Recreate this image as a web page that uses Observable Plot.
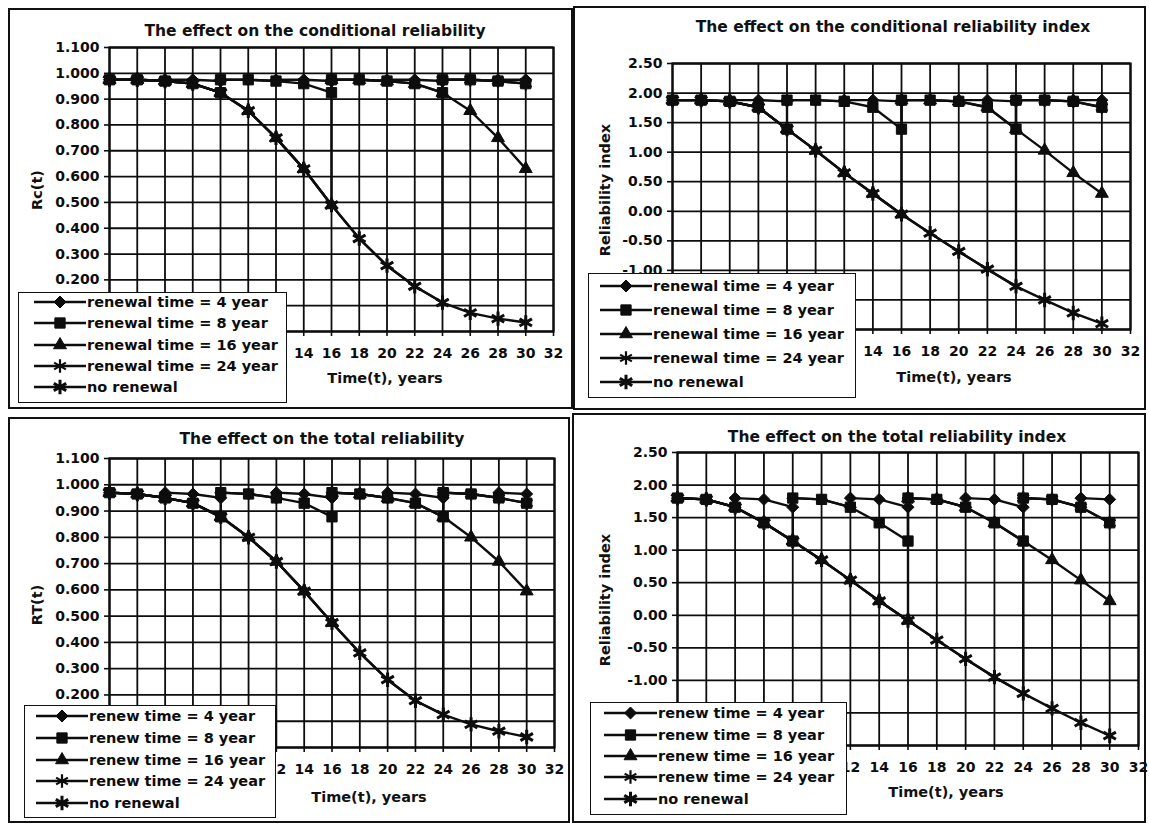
<!DOCTYPE html>
<html><head><meta charset="utf-8">
<script src="https://cdn.jsdelivr.net/npm/d3@7"></script>
<script src="https://cdn.jsdelivr.net/npm/@observablehq/plot@0.6"></script>
<style>
body{margin:0;background:#fff;}
#root{position:relative;width:1149px;height:825px;overflow:hidden;font-family:"DejaVu Sans",sans-serif;font-weight:bold;color:#111;background:#fff;}
.panel{position:absolute;border:2px solid #111;box-sizing:border-box;}
.abs{position:absolute;white-space:nowrap;line-height:1;}
.legend{position:absolute;background:#fff;border:1.6px solid #111;box-sizing:border-box;overflow:hidden;}
svg{overflow:visible;}
</style></head><body><div id="root"></div>
<script>
// ---------------- data ----------------
const years = [0,2,4,6,8,10,12,14,16,18,20,22,24,26,28,30];
const xTicks = [0,2,4,6,8,10,12,14,16,18,20,22,24,26,28,30,32];
const relTicks = [0,0.1,0.2,0.3,0.4,0.5,0.6,0.7,0.8,0.9,1.0,1.1];
const idxTicks = [-2,-1.5,-1,-0.5,0,0.5,1,1.5,2,2.5];
// tick labels left visible beside the legend boxes
const xLabelsTop = [14,16,18,20,22,24,26,28,30,32];
const xLabelsBottom = [12,14,16,18,20,22,24,26,28,30,32];
const relLabels = [0.2,0.3,0.4,0.5,0.6,0.7,0.8,0.9,1.0,1.1];
const idxLabels = [-1,-0.5,0,0.5,1,1.5,2,2.5];

const renew4 = [4,8,12,16,20,24,28];
const renew8 = [8,16,24];
const renew16 = [16];
const renew24 = [24];

const labelsRenewal = ["renewal time = 4 year","renewal time = 8 year","renewal time = 16 year","renewal time = 24 year","no renewal"];
const labelsRenew = ["renew time = 4 year","renew time = 8 year","renew time = 16 year","renew time = 24 year","no renewal"];

// Panel 1: conditional reliability Rc(t)
const rcNone = [0.975,0.975,0.970,0.960,0.925,0.855,0.750,0.630,0.490,0.360,0.255,0.175,0.112,0.072,0.050,0.035];
const rc4    = [0.975,0.975,0.970,0.975,0.970,0.975,0.970,0.975,0.970,0.975,0.970,0.975,0.970,0.975,0.970,0.975];
const rc8    = [0.975,0.975,0.970,0.960,0.925,0.975,0.970,0.960,0.925,0.975,0.970,0.960,0.925,0.975,0.970,0.960];
const rc16   = [0.975,0.975,0.970,0.960,0.925,0.855,0.750,0.630,0.490,0.975,0.970,0.960,0.925,0.855,0.750,0.630];
const rc24   = [0.975,0.975,0.970,0.960,0.925,0.855,0.750,0.630,0.490,0.360,0.255,0.175,0.112,0.975,0.970,0.960];
const rcReset = 0.975;

// Panel 2: conditional reliability index
const bcNone = [1.88,1.88,1.86,1.76,1.39,1.03,0.65,0.30,-0.05,-0.37,-0.68,-0.98,-1.27,-1.50,-1.72,-1.90];
const bc4    = [1.88,1.88,1.86,1.88,1.86,1.88,1.86,1.88,1.86,1.88,1.86,1.88,1.86,1.88,1.86,1.88];
const bc8    = [1.88,1.88,1.86,1.76,1.39,1.88,1.86,1.76,1.39,1.88,1.86,1.76,1.39,1.88,1.86,1.76];
const bc16   = [1.88,1.88,1.86,1.76,1.39,1.03,0.65,0.30,-0.05,1.88,1.86,1.76,1.39,1.03,0.65,0.30];
const bc24   = [1.88,1.88,1.86,1.76,1.39,1.03,0.65,0.30,-0.05,-0.37,-0.68,-0.98,-1.27,1.88,1.86,1.76];
const bcReset = 1.88;

// Panel 3: total reliability RT(t)
const rtNone = [0.970,0.965,0.950,0.930,0.878,0.800,0.708,0.595,0.475,0.360,0.258,0.178,0.125,0.088,0.062,0.040];
const rt4    = [0.970,0.965,0.950,0.965,0.950,0.965,0.950,0.965,0.950,0.965,0.950,0.965,0.950,0.965,0.950,0.965];
const rt8    = [0.970,0.965,0.950,0.930,0.878,0.965,0.950,0.930,0.878,0.965,0.950,0.930,0.878,0.965,0.950,0.930];
const rt16   = [0.970,0.965,0.950,0.930,0.878,0.800,0.708,0.595,0.475,0.965,0.950,0.930,0.878,0.800,0.708,0.595];
const rt24   = [0.970,0.965,0.950,0.930,0.878,0.800,0.708,0.595,0.475,0.360,0.258,0.178,0.125,0.965,0.950,0.930];
const rtReset = 0.970;

// Panel 4: total reliability index
const btNone = [1.80,1.78,1.66,1.42,1.14,0.85,0.54,0.22,-0.08,-0.38,-0.67,-0.95,-1.20,-1.43,-1.65,-1.85];
const bt4    = [1.80,1.78,1.66,1.78,1.66,1.78,1.66,1.78,1.66,1.78,1.66,1.78,1.66,1.78,1.66,1.78];
const bt8    = [1.80,1.78,1.66,1.42,1.14,1.78,1.66,1.42,1.14,1.78,1.66,1.42,1.14,1.78,1.66,1.42];
const bt16   = [1.80,1.78,1.66,1.42,1.14,0.85,0.54,0.22,-0.08,1.78,1.66,1.42,1.14,0.85,0.54,0.22];
const bt24   = [1.80,1.78,1.66,1.42,1.14,0.85,0.54,0.22,-0.08,-0.38,-0.67,-0.95,-1.20,1.78,1.66,1.42];
const btReset = 1.80;

// ---------------- helpers ----------------
const INK = "#0d0d0d";
const FONT = '"DejaVu Sans", sans-serif';
const root = document.getElementById("root");

function withRenewals(values, renewals, reset) {
  const out = [];
  years.forEach((t, i) => {
    out.push({t, v: values[i]});
    if (renewals.includes(t)) out.push({t, v: reset});
  });
  return out;
}

const markerStyles = [
  {symbol: "diamond2", r: 5.4, fill: INK, sw: 1},
  {symbol: "square", r: 5.8, fill: INK, sw: 1},
  {symbol: "triangle", r: 4.8, fill: INK, sw: 1},
  {symbol: "asterisk", r: 6.4, fill: "none", sw: 2.2},
  {symbol: "asterisk", r: 6.8, fill: "none", sw: 3}
];
const d3Sym = {diamond2: d3.symbolDiamond2, square: d3.symbolSquare, triangle: d3.symbolTriangle, asterisk: d3.symbolAsterisk};

function addBox(x0, y0, x1, y1) {
  const d = document.createElement("div");
  d.className = "panel";
  Object.assign(d.style, {left: x0 + "px", top: y0 + "px", width: (x1 - x0) + "px", height: (y1 - y0) + "px"});
  root.appendChild(d);
}
function addText(txt, x, y, size, rotate) {
  const d = document.createElement("div");
  d.className = "abs";
  d.textContent = txt;
  d.style.left = x + "px"; d.style.top = y + "px";
  d.style.fontSize = size + "px";
  d.style.transform = "translate(-50%,-50%)" + (rotate ? ` rotate(${rotate}deg)` : "");
  root.appendChild(d);
}

function drawPanel(p) {
  const seriesData = [
    withRenewals(p.s4, renew4, p.reset),
    withRenewals(p.s8, renew8, p.reset),
    withRenewals(p.s16, renew16, p.reset),
    withRenewals(p.s24, renew24, p.reset),
    years.map((t, i) => ({t, v: p.none[i]}))
  ];
  const marks = [
    Plot.gridX(xTicks, {stroke: INK, strokeOpacity: 1, strokeWidth: 1.8}),
    Plot.gridY(p.ticks, {stroke: INK, strokeOpacity: 1, strokeWidth: 1.8}),
    Plot.frame({stroke: INK, strokeWidth: 2.2}),
    Plot.axisX(p.xLabels, {tickSize: 5, tickPadding: 12, tickFormat: d => String(d), label: null, stroke: INK, strokeWidth: 1.6}),
    Plot.axisY(p.yLabels, {tickSize: 5, tickPadding: 5, tickFormat: p.fmt, label: null, stroke: INK, strokeWidth: 1.6})
  ];
  seriesData.forEach((data, k) => {
    const m = markerStyles[k];
    marks.push(Plot.line(data, {x: "t", y: "v", stroke: INK, strokeWidth: 2.4}));
    marks.push(Plot.dot(data, {x: "t", y: "v", symbol: () => m.symbol, r: m.r, fill: m.fill, stroke: INK, strokeWidth: m.sw}));
  });
  const chart = Plot.plot({
    width: p.w, height: p.h,
    marginLeft: p.mL, marginRight: p.mR, marginTop: p.mT, marginBottom: p.mB,
    x: {domain: [0, 32]},
    y: {domain: p.domain},
    symbol: {type: "identity"},
    style: {fontFamily: FONT, fontWeight: "bold", fontSize: "14px", color: INK, background: "transparent", overflow: "visible"},
    marks
  });
  chart.style.position = "absolute";
  chart.style.left = p.x + "px";
  chart.style.top = p.y + "px";
  root.appendChild(chart);
}

function drawLegend(lg, labels) {
  const w = lg.x1 - lg.x0, h = lg.y1 - lg.y0;
  const div = document.createElement("div");
  div.className = "legend";
  Object.assign(div.style, {left: lg.x0 + "px", top: lg.y0 + "px", width: w + "px", height: h + "px"});
  const svg = d3.create("svg").attr("width", w).attr("height", h)
    .style("position", "absolute").style("left", "-1.6px").style("top", "-1.6px").style("overflow", "hidden");
  labels.forEach((lab, k) => {
    const cy = lg.rows[k] - lg.y0;
    const m = markerStyles[k];
    svg.append("line").attr("x1", lg.sx0 - lg.x0).attr("x2", lg.sx1 - lg.x0)
      .attr("y1", cy).attr("y2", cy).attr("stroke", INK).attr("stroke-width", 2.4);
    svg.append("path").attr("d", d3.symbol(d3Sym[m.symbol], Math.PI * m.r * m.r)())
      .attr("transform", `translate(${(lg.sx0 + lg.sx1) / 2 - lg.x0},${cy})`)
      .attr("fill", m.fill).attr("stroke", INK).attr("stroke-width", m.sw);
    svg.append("text").attr("x", lg.sx1 - lg.x0 + 1).attr("y", cy).attr("dy", "0.36em")
      .attr("font-family", FONT).attr("font-weight", "bold").attr("font-size", 14.5)
      .attr("fill", INK).text(lab);
  });
  div.appendChild(svg.node());
  root.appendChild(div);
}

const f3 = d => d.toFixed(3);
const f2 = d => d.toFixed(2);

const panels = [
  {box: [8, 8, 573, 409], x: 8, y: 8, w: 565, h: 401, mL: 101, mR: 20, mT: 39, mB: 78,
   domain: [0, 1.1], ticks: relTicks, yLabels: relLabels, xLabels: xLabelsTop, fmt: f3,
   none: rcNone, s4: rc4, s8: rc8, s16: rc16, s24: rc24, reset: rcReset,
   title: "The effect on the conditional reliability", tx: 315, ty: 32,
   ytitle: "Rc(t)", yx: 37, yy: 190, xtx: 385, xty: 378,
   legend: {x0: 18, y0: 292, x1: 287, y1: 403, rows: [303, 324, 346, 367, 388], sx0: 35, sx1: 87}, labels: labelsRenewal},
  {box: [573, 6, 1146, 410], x: 573, y: 6, w: 573, h: 404, mL: 99, mR: 16, mT: 57, mB: 81,
   domain: [-2, 2.5], ticks: idxTicks, yLabels: idxLabels, xLabels: xLabelsTop, fmt: f2,
   none: bcNone, s4: bc4, s8: bc8, s16: bc16, s24: bc24, reset: bcReset,
   title: "The effect on the conditional reliability index", tx: 893, ty: 28,
   ytitle: "Reliability index", yx: 605, yy: 190, xtx: 954, xty: 377,
   legend: {x0: 588, y0: 273, x1: 856, y1: 398, rows: [287, 311, 335, 359, 383], sx0: 601, sx1: 653}, labels: labelsRenewal},
  {box: [8, 417, 570, 823], x: 8, y: 417, w: 562, h: 406, mL: 101, mR: 16, mT: 41, mB: 76,
   domain: [0, 1.1], ticks: relTicks, yLabels: relLabels, xLabels: xLabelsBottom, fmt: f3,
   none: rtNone, s4: rt4, s8: rt8, s16: rt16, s24: rt24, reset: rtReset,
   title: "The effect on the total reliability", tx: 322, ty: 440,
   ytitle: "RT(t)", yx: 37, yy: 605, xtx: 369, xty: 797,
   legend: {x0: 24, y0: 705, x1: 276, y1: 818, rows: [717, 739, 761, 782, 804], sx0: 37, sx1: 89}, labels: labelsRenew},
  {box: [572, 413, 1146, 823], x: 572, y: 413, w: 574, h: 410, mL: 105, mR: 8, mT: 39, mB: 78,
   domain: [-2, 2.5], ticks: idxTicks, yLabels: idxLabels, xLabels: xLabelsBottom, fmt: f2,
   none: btNone, s4: bt4, s8: bt8, s16: bt16, s24: bt24, reset: btReset,
   title: "The effect on the total reliability index", tx: 897, ty: 438,
   ytitle: "Reliability index", yx: 605, yy: 600, xtx: 946, xty: 792,
   legend: {x0: 590, y0: 702, x1: 847, y1: 815, rows: [714, 736, 757, 778, 800], sx0: 605, sx1: 658}, labels: labelsRenew}
];

panels.forEach(p => {
  addBox(...p.box);
  drawPanel(p);
  addText(p.title, p.tx, p.ty, 15.5);
  addText(p.ytitle, p.yx, p.yy, 14.5, -90);
  addText("Time(t), years", p.xtx, p.xty, 14.5);
  drawLegend(p.legend, p.labels);
});
</script></body></html>
